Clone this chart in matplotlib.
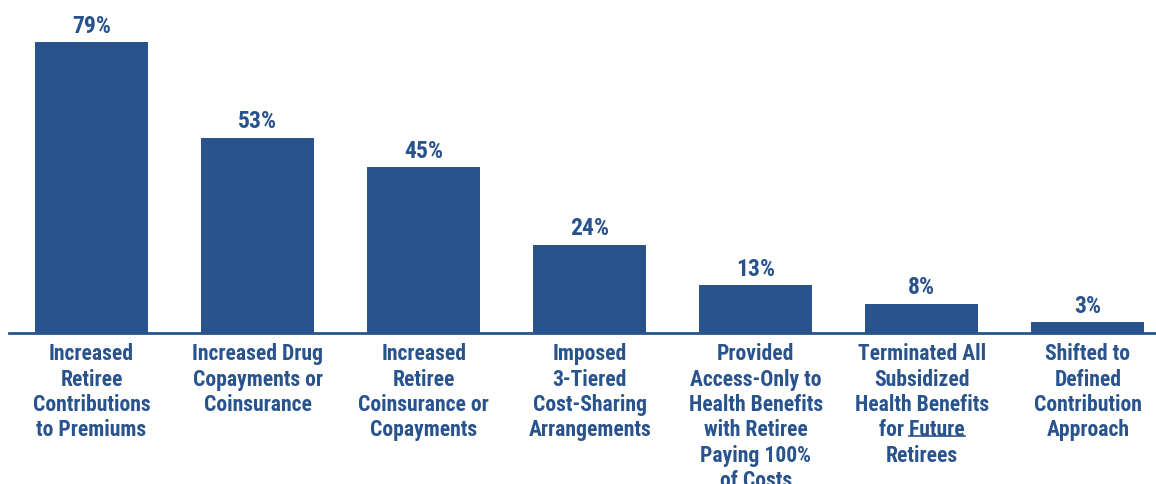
import matplotlib
matplotlib.use("Agg")
import matplotlib.pyplot as plt
from matplotlib.lines import Line2D

categories = [
    "Increased\nRetiree\nContributions\nto Premiums",
    "Increased Drug\nCopayments or\nCoinsurance",
    "Increased\nRetiree\nCoinsurance or\nCopayments",
    "Imposed\n3-Tiered\nCost-Sharing\nArrangements",
    "Provided\nAccess-Only to\nHealth Benefits\nwith Retiree\nPaying 100%\nof Costs",
    "Terminated All\nSubsidized\nHealth Benefits\nfor Future\nRetirees",
    "Shifted to\nDefined\nContribution\nApproach",
]
values = [79, 53, 45, 24, 13, 8, 3]

BLUE = "#29538D"
FONTS = ["Liberation Sans Narrow", "Roboto Condensed", "Liberation Sans"]
plt.rcParams["font.family"] = FONTS
LABEL_SIZE = 15.6

fig = plt.figure(figsize=(11.56, 4.85), dpi=100)
ax = fig.add_axes([0.0082, 0.311, 0.9918, 0.689])

x = list(range(len(values)))
ax.bar(x, values, width=0.68, color=BLUE)
ax.set_xlim(-0.494, 6.41)
ax.set_ylim(0, 90.7)
for s in ["top", "right", "left"]:
    ax.spines[s].set_visible(False)
ax.spines["bottom"].set_color(BLUE)
ax.spines["bottom"].set_linewidth(2)
ax.set_xticks([])
ax.set_yticks([])

for xi, v in zip(x, values):
    ax.annotate(f"{v}%", (xi, v), xytext=(0, 4), textcoords="offset points",
                ha="center", va="bottom", fontsize=17, fontweight="bold",
                color=BLUE)

label_kw = dict(ha="center", va="top", fontsize=LABEL_SIZE, fontweight="bold",
                color=BLUE, linespacing=1.2)
labels = []
for xi, c in zip(x, categories):
    t = ax.annotate(c, (xi, 0), xytext=(0, -6.5), textcoords="offset points",
                    annotation_clip=False, **label_kw)
    labels.append(t)

# underline "Future" in the sixth label
fig.canvas.draw()
r = fig.canvas.get_renderer()
t6 = labels[5]
bb = t6.get_window_extent(r)
nlines = categories[5].count("\n") + 1
line_h = bb.height / nlines
tmp_full = fig.text(0, 0, "for Future", fontsize=LABEL_SIZE, fontweight="bold")
tmp_word = fig.text(0, 0, "Future", fontsize=LABEL_SIZE, fontweight="bold")
w_full = tmp_full.get_window_extent(r).width
w_word = tmp_word.get_window_extent(r).width
tmp_full.remove()
tmp_word.remove()
cx = (bb.x0 + bb.x1) / 2
x_end = cx + w_full / 2
x_start = x_end - w_word
y_ul = bb.y1 - line_h * 4 + line_h * 0.2
fig.add_artist(Line2D([x_start / fig.bbox.width, x_end / fig.bbox.width],
                      [y_ul / fig.bbox.height] * 2, color=BLUE, lw=1.2))

fig.savefig("out.png", dpi=100)
